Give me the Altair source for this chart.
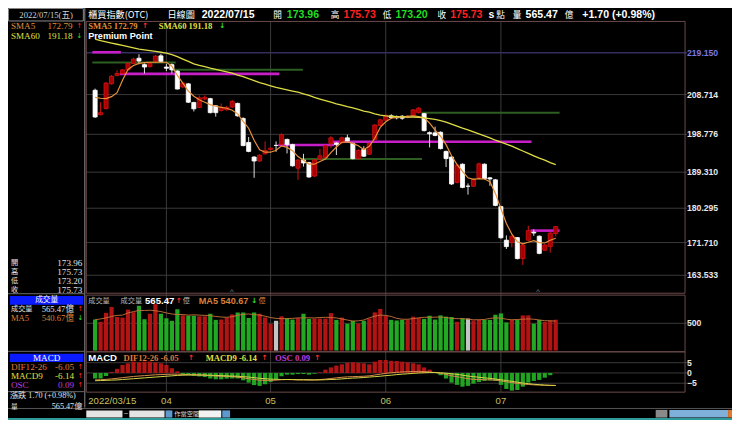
import altair as alt
import pandas as pd

# ---------------- data ----------------
first_date = "2022/03/15"
month_idx = [13, 32, 53, 74]
month_labels = ["04", "05", "06", "07"]

open_ = [209.8, 203.7, 205.2, 211.4, 213.5, 214.0, 214.9, 216.5, 217.8, 216.2,
         215.7, 217.0, 218.4, 215.6, 216.2, 214.6, 210.6, 211.4, 206.75, 205.5,
         207.6, 207.7, 205.9, 204.75, 204.9, 205.6, 206.5, 202.75, 196.75, 193.1,
         192.1, 193.9, 195.0, 196.0, 196.2, 197.5, 196.2, 190.3, 192.35, 191.7,
         188.35, 192.6, 192.97, 196.5, 196.6, 196.7, 197.9, 196.5, 192.7, 195.0,
         193.8, 197.5, 201.0, 202.3, 203.4, 203.2, 203.3, 203.0, 203.4, 204.2,
         203.95, 199.2, 199.15, 199.3, 194.5, 193.1, 186.75, 191.3, 185.8, 185.8,
         187.9, 191.3, 187.9, 187.4, 180.7, 172.3, 171.7, 172.95, 167.7, 172.3,
         174.3, 173.3, 169.8, 170.7, 173.96]
high = [210.2, 206.8, 211.8, 213.6, 214.8, 215.1, 216.7, 217.9, 218.8, 216.5,
        216.8, 218.6, 218.9, 216.4, 216.5, 214.8, 211.8, 211.6, 206.9, 208.5,
        208.5, 207.9, 206.1, 206.5, 205.9, 207.4, 206.7, 203.0, 198.1, 193.3,
        193.8, 197.0, 195.5, 197.0, 199.0, 197.7, 196.4, 192.6, 193.9, 191.9,
        192.6, 195.1, 196.2, 198.3, 196.8, 198.2, 198.7, 196.7, 195.0, 195.8,
        196.8, 201.3, 202.6, 203.8, 203.8, 203.5, 203.6, 203.6, 205.1, 205.6,
        204.1, 199.5, 200.7, 199.5, 194.7, 193.3, 191.4, 191.5, 186.5, 187.8,
        191.7, 191.5, 188.1, 187.6, 180.9, 173.5, 173.5, 173.1, 171.3, 175.9,
        175.0, 173.5, 171.3, 174.3, 175.73]
low = [202.9, 203.5, 205.0, 211.2, 213.3, 213.8, 214.7, 216.3, 216.3, 214.0,
       215.5, 216.8, 216.7, 214.6, 214.0, 210.0, 210.4, 206.6, 204.5, 205.3,
       207.3, 204.0, 203.2, 204.5, 204.7, 205.4, 203.2, 195.8, 194.3, 187.9,
       191.9, 193.7, 194.8, 194.4, 196.0, 194.0, 190.7, 187.4, 190.7, 187.9,
       188.1, 192.3, 192.7, 195.3, 193.6, 196.5, 196.9, 192.5, 192.5, 193.1,
       193.6, 197.3, 200.8, 202.1, 202.7, 202.5, 202.4, 202.8, 203.2, 204.0,
       199.5, 195.5, 198.3, 195.0, 190.6, 186.1, 186.5, 185.3, 183.7, 185.6,
       187.7, 187.5, 185.9, 180.8, 172.7, 170.1, 170.5, 167.5, 166.1, 172.1,
       173.4, 168.8, 169.6, 169.2, 173.20]
close = [203.1, 204.2, 211.6, 213.3, 214.0, 214.9, 216.5, 217.6, 217.1, 215.6,
         216.5, 218.35, 217.0, 215.3, 214.9, 210.1, 211.6, 206.8, 205.15, 207.9,
         208.0, 204.2, 204.2, 205.55, 205.5, 207.0, 203.4, 195.95, 194.5, 192.1,
         193.55, 194.75, 195.3, 196.0, 198.7, 196.2, 190.9, 192.35, 191.6, 188.1,
         192.35, 193.4, 195.95, 197.9, 196.2, 197.9, 197.1, 192.7, 194.75, 193.3,
         196.5, 201.1, 202.4, 203.5, 203.0, 202.9, 202.8, 203.3, 204.9, 205.3,
         199.7, 198.9, 198.5, 195.2, 192.7, 186.35, 191.1, 185.5, 185.8, 187.55,
         191.4, 187.7, 187.6, 181.0, 172.9, 170.7, 173.3, 167.7, 171.1, 174.7,
         174.1, 169.0, 171.1, 174.1, 175.73]
sma5 = [208.0, 207.8, 207.7, 208.2, 209.2, 212.3, 215.0, 216.0, 216.5, 216.7,
        216.8, 216.8, 216.8, 216.8, 215.8, 213.5, 211.6, 209.6, 208.3, 207.4,
        206.8, 206.2, 205.8, 205.5, 205.3, 204.8, 203.9, 202.0, 200.3, 197.3,
        194.9, 194.3, 194.3, 194.8, 195.9, 195.5, 194.7, 193.2, 192.3, 191.3,
        191.3, 192.0, 192.6, 194.2, 195.6, 196.8, 196.9, 196.5, 195.9, 195.0,
        195.8, 197.8, 200.5, 201.9, 202.8, 203.0, 203.15, 203.3, 203.4, 203.2,
        202.9, 201.6, 199.8, 198.3, 196.2, 193.4, 191.2, 189.5, 187.9, 187.5,
        187.7, 187.6, 186.9, 184.0, 180.2, 176.5, 173.8, 171.9, 171.4, 171.8,
        172.2, 171.7, 171.6, 172.3, 172.79]
sma60 = [222.6, 222.2, 221.9, 221.6, 221.3, 221.0, 220.7, 220.4, 220.1, 219.9,
         219.7, 219.5, 219.3, 219.1, 218.7, 218.2, 217.6, 217.0, 216.4, 216.0,
         215.7, 215.3, 215.0, 214.7, 214.4, 214.1, 213.6, 213.2, 212.7, 212.2,
         211.7, 211.3, 210.9, 210.5, 210.2, 209.9, 209.6, 209.3, 208.9, 208.5,
         208.0, 207.6, 207.2, 206.8, 206.4, 206.1, 205.7, 205.4, 205.0, 204.6,
         204.3, 203.9, 203.6, 203.4, 203.3, 203.2, 203.15, 203.1, 203.1, 203.05,
         202.9, 202.7, 202.5, 202.2, 201.8, 201.3, 200.8, 200.3, 199.9, 199.4,
         198.9, 198.4, 197.9, 197.3, 196.8, 196.3, 195.8, 195.2, 194.6, 194.0,
         193.4, 192.8, 192.3, 191.7, 191.18]
volume = [569, 528, 692, 798, 616, 604, 751, 704, 822, 575,
          675, 851, 675, 593, 546, 757, 645, 639, 639, 628,
          628, 675, 563, 569, 604, 663, 698, 698, 598, 698,
          675, 604, 487, 546, 628, 593, 569, 593, 675, 581,
          587, 587, 587, 686, 563, 604, 493, 546, 499, 546,
          587, 700, 763, 634, 563, 552, 563, 569, 622, 598,
          581, 639, 569, 645, 622, 616, 528, 593, 587, 552,
          563, 563, 563, 657, 681, 516, 563, 563, 645, 645,
          493, 563, 528, 552, 565.47]
vol_ma5 = [565, 580, 600, 625, 645, 650, 690, 715, 735, 735,
           740, 730, 715, 690, 670, 660, 660, 650, 655, 650,
           645, 640, 625, 615, 610, 620, 645, 665, 670, 660,
           650, 630, 605, 590, 585, 585, 590, 598, 600, 600,
           598, 605, 610, 605, 598, 580, 560, 540, 545, 560,
           600, 630, 650, 645, 625, 590, 575, 575, 585, 600,
           610, 610, 612, 615, 605, 590, 585, 585, 575, 565,
           565, 570, 590, 600, 595, 575, 565, 570, 575, 580,
           575, 560, 548, 545, 540.67]
osc = [-2.7, -2.7, -1.5, 0.5, 2.0, 3.9, 4.7, 5.5, 5.2, 5.5,
       5.5, 5.2, 4.7, 3.9, 2.3, 0.8, -0.8, -1.1, -1.4, -1.7,
       -2.0, -2.7, -3.1, -3.1, -2.8, -2.7, -2.7, -3.6, -4.7, -5.9,
       -6.3, -5.5, -4.4, -3.1, -1.6, -0.8, -0.8, -0.5, -0.5, -0.8,
       -0.4, 0.3, 1.6, 2.7, 3.6, 4.2, 5.0, 5.2, 4.9, 4.7,
       4.2, 5.5, 6.3, 6.3, 5.9, 5.8, 5.5, 5.2, 4.7, 4.2,
       2.7, 1.6, 0.5, -1.1, -2.7, -4.7, -5.8, -6.7, -6.3, -5.2,
       -4.4, -3.9, -3.6, -3.9, -5.8, -7.8, -8.6, -8.3, -6.7, -4.7,
       -3.9, -3.4, -2.3, -1.1, 0.09]
dif = [-3.4, -3.3, -3.1, -2.9, -2.6, -2.3, -2.0, -1.7, -1.5, -1.3,
       -1.1, -0.9, -0.8, -0.7, -0.6, -0.6, -0.7, -0.8, -0.9, -1.0,
       -1.1, -1.3, -1.5, -1.6, -1.7, -1.8, -2.0, -2.4, -2.8, -3.2,
       -3.5, -3.6, -3.6, -3.5, -3.3, -3.2, -3.3, -3.4, -3.4, -3.5,
       -3.4, -3.2, -3.0, -2.7, -2.4, -2.1, -1.9, -1.8, -1.7, -1.6,
       -1.4, -1.0, -0.6, -0.2, 0.1, 0.3, 0.5, 0.6, 0.7, 0.8,
       0.7, 0.5, 0.2, -0.2, -0.7, -1.4, -1.8, -2.3, -2.8, -3.1,
       -3.2, -3.3, -3.4, -3.5, -3.9, -4.3, -4.7, -5.1, -5.4, -5.6,
       -5.8, -5.9, -6.0, -6.0, -6.05]
macd9 = [-3.8, -3.7, -3.6, -3.5, -3.4, -3.2, -3.0, -2.8, -2.6, -2.4,
         -2.2, -2.0, -1.8, -1.6, -1.4, -1.2, -1.1, -1.0, -1.0, -1.0,
         -1.0, -1.1, -1.2, -1.3, -1.4, -1.5, -1.6, -1.8, -2.0, -2.3,
         -2.6, -2.8, -3.0, -3.1, -3.2, -3.2, -3.2, -3.3, -3.3, -3.3,
         -3.4, -3.4, -3.3, -3.2, -3.1, -2.9, -2.7, -2.5, -2.4, -2.2,
         -2.0, -1.8, -1.6, -1.3, -1.1, -0.8, -0.6, -0.4, -0.2, 0.0,
         0.1, 0.2, 0.2, 0.1, -0.1, -0.4, -0.7, -1.1, -1.5, -1.8,
         -2.1, -2.4, -2.6, -3.0, -3.3, -3.7, -4.1, -4.5, -4.9, -5.2,
         -5.5, -5.7, -5.9, -6.05, -6.14]

price_ticks = [163.533, 171.710, 180.295, 189.310, 198.776, 208.714]
price_top_level = [219.150]
vol_ticks = [500]
macd_ticks = [5, 0, -5]

level_value = [219.3, 216.75, 214.9, 213.9, 196.1, 196.9, 192.6, 204.2, 174.7]
level_start = [-0.5, -0.5, 13.9, 4.5, 33.4, 43.0, 37.5, 59.5, 79.4]
level_end = [4.7, 14.7, 37.9, 33.6, 43.6, 79.6, 59.6, 84.7, 84.7]
level_kind = ["m", "g", "g", "m", "m", "m", "g", "g", "m"]

# ---------------- layout ----------------
W, H = 724, 412
FX, FY = W / 740.0, H / 429.0


def X(x):
    return round(x * FX, 2)


def Y(y):
    return round(y * FY, 2)


RED = "#ff2a2a"
GRN = "#2ee82e"
ORG = "#e0903a"
YEL = "#e2e040"
DIFC = "#e0783a"
PUR = "#c23cdc"
TXT = "#e2e2e2"
GRID = "#3a3a3a"
FRAME = "#6b4a4a"
SERIF = "'Liberation Serif','Noto Sans CJK TC',serif"
SANS = "'Liberation Sans','Noto Sans CJK TC',sans-serif"
CJK = "'Noto Sans CJK TC',sans-serif"
ARW = "'DejaVu Sans',sans-serif"

xs = alt.Scale(domain=[-0.7, 106.67], range=[X(80), X(692)], nice=False, zero=False)
ps = alt.Scale(domain=[159.04, 227.0], range=[Y(297), Y(14)], nice=False, zero=False)
vs = alt.Scale(domain=[0, 1016], range=[Y(356.7), Y(299)], nice=False, zero=False)
ms = alt.Scale(domain=[-9.35, 10.3], range=[Y(400), Y(358)], nice=False, zero=False)

n = len(close)
df = pd.DataFrame({
    "i": list(range(n)), "o": open_, "h": high, "l": low, "c": close,
    "s5": sma5, "s60": sma60, "v": volume, "vm": vol_ma5,
    "osc": osc, "dif": dif, "m9": macd9,
})
df["z"] = 0
lev = pd.DataFrame({"val": level_value, "s": level_start, "e": level_end, "k": level_kind})
mon = pd.DataFrame({"i": month_idx, "lab": month_labels})

ONE = alt.Data(values=[{"k": 0}])
base = alt.Chart(df)
XI = alt.X("i:Q", scale=xs, axis=None)


def txt(s, x, y, color=TXT, size=10, font=SANS, bold=False, align="left"):
    kw = dict(text=s, font=font, fontSize=round(size * FY, 2), color=color,
              align=align, baseline="middle")
    if bold:
        kw["fontWeight"] = "bold"
    return alt.Chart(ONE).mark_text(**kw).encode(x=alt.value(X(x)), y=alt.value(Y(y)))


def hline(x1, x2, y, color, w=1):
    return alt.Chart(ONE).mark_rule(color=color, strokeWidth=w).encode(
        x=alt.value(X(x1)), x2=alt.value(X(x2)), y=alt.value(Y(y)))


def vline(x, y1, y2, color, w=1):
    return alt.Chart(ONE).mark_rule(color=color, strokeWidth=w).encode(
        x=alt.value(X(x)), y=alt.value(Y(y1)), y2=alt.value(Y(y2)))


def box(x1, y1, x2, y2, fill=None, stroke=None, w=1):
    kw = {}
    if fill:
        kw["fill"] = fill
    else:
        kw["fillOpacity"] = 0
    if stroke:
        kw["stroke"] = stroke
        kw["strokeWidth"] = w
    return alt.Chart(ONE).mark_rect(**kw).encode(
        x=alt.value(X(x1)), x2=alt.value(X(x2)), y=alt.value(Y(y1)), y2=alt.value(Y(y2)))


layers = []

# ---- grids ----
layers.append(alt.Chart(pd.DataFrame({"p": price_ticks})).mark_rule(color=GRID, strokeWidth=1).encode(
    y=alt.Y("p:Q", scale=ps, axis=None), x=alt.value(X(80)), x2=alt.value(X(694))))
layers.append(alt.Chart(pd.DataFrame({"p": price_top_level})).mark_rule(color="#4e4490", strokeWidth=1).encode(
    y=alt.Y("p:Q", scale=ps, axis=None), x=alt.value(X(80)), x2=alt.value(X(694))))
layers.append(alt.Chart(mon).mark_rule(color=GRID, strokeWidth=1).encode(
    x=XI, y=alt.value(Y(14)), y2=alt.value(Y(400))))
layers.append(alt.Chart(pd.DataFrame({"p": vol_ticks})).mark_rule(color=GRID, strokeWidth=1).encode(
    y=alt.Y("p:Q", scale=vs, axis=None), x=alt.value(X(80)), x2=alt.value(X(694))))
layers.append(alt.Chart(pd.DataFrame({"p": macd_ticks})).mark_rule(color=GRID, strokeWidth=1).encode(
    y=alt.Y("p:Q", scale=ms, axis=None), x=alt.value(X(80)), x2=alt.value(X(694))))

# ---- level lines ----
layers.append(alt.Chart(lev).transform_filter("datum.k == 'g'").mark_rule(color="#2f5e22", strokeWidth=2).encode(
    x=alt.X("s:Q", scale=xs, axis=None), x2="e:Q", y=alt.Y("val:Q", scale=ps, axis=None)))
layers.append(alt.Chart(lev).transform_filter("datum.k == 'm'").mark_rule(color="#c81ec8", strokeWidth=2.6).encode(
    x=alt.X("s:Q", scale=xs, axis=None), x2="e:Q", y=alt.Y("val:Q", scale=ps, axis=None)))

# ---- candles ----
cand = base.transform_calculate(
    body="datum.c > datum.o ? '#a80000' : '#ffffff'",
    edge="datum.c > datum.o ? '#d81212' : '#ffffff'",
    wick="datum.c > datum.o ? '#d01414' : '#dcdcdc'",
)
layers.append(cand.mark_rule(strokeWidth=1).encode(
    x=XI, y=alt.Y("l:Q", scale=ps, axis=None), y2="h:Q", color=alt.Color("wick:N", scale=None)))
layers.append(cand.mark_bar(size=X(4.2), strokeWidth=0.8).encode(
    x=XI, y=alt.Y("o:Q", scale=ps, axis=None), y2="c:Q",
    fill=alt.Fill("body:N", scale=None), stroke=alt.Stroke("edge:N", scale=None)))
layers.append(base.mark_line(color="#e8913a", strokeWidth=1.2).encode(
    x=XI, y=alt.Y("s5:Q", scale=ps, axis=None)))
layers.append(base.mark_line(color="#dedc44", strokeWidth=1.3).encode(
    x=XI, y=alt.Y("s60:Q", scale=ps, axis=None)))

# ---- volume ----
layers.append(base.transform_calculate(
    vc="datum.c > datum.o ? '#b21414' : (datum.c < datum.o ? '#22a822' : '#c4c4c4')"
).mark_bar(size=X(4.3)).encode(
    x=XI, y=alt.Y("v:Q", scale=vs, axis=None), y2="z:Q", color=alt.Color("vc:N", scale=None)))
layers.append(base.mark_line(color="#c8743a", strokeWidth=0.9).encode(
    x=XI, y=alt.Y("vm:Q", scale=vs, axis=None)))

# ---- MACD ----
layers.append(base.transform_calculate(
    oc="datum.osc >= 0 ? '#b21414' : '#22a422'"
).mark_bar(size=X(4.3)).encode(
    x=XI, y=alt.Y("osc:Q", scale=ms, axis=None), y2="z:Q", color=alt.Color("oc:N", scale=None)))
layers.append(base.mark_line(color="#d88a4a", strokeWidth=1).encode(
    x=XI, y=alt.Y("dif:Q", scale=ms, axis=None)))
layers.append(base.mark_line(color="#d6d246", strokeWidth=1).encode(
    x=XI, y=alt.Y("m9:Q", scale=ms, axis=None)))

# ---- frames ----
layers += [
    box(80, 14, 692, 297, stroke=FRAME),
    box(80, 299, 692, 358, stroke=FRAME),
    box(80, 358, 692, 400, stroke=FRAME),
    box(0.5, 0.5, 77, 13.5, stroke="#8a8a8a"),
    vline(78.5, 0, 416, "#8a8a8a"),
    hline(0, 78, 297.5, "#6a6a6a"),
    hline(0, 78, 357.5, "#6a6a6a"),
    hline(0, 78, 399.5, "#6a6a6a"),
    hline(0, 740, 417, "#555555"),
]

# ---- right axis labels ----
layers.append(alt.Chart(pd.DataFrame({"p": price_ticks})).mark_text(
    font=SANS, fontSize=round(9 * FY, 2), fontWeight="bold", color="#e6e6e6", align="left", baseline="middle").encode(
    y=alt.Y("p:Q", scale=ps, axis=None), x=alt.value(X(694)), text=alt.Text("p:Q", format=".3f")))
layers.append(alt.Chart(pd.DataFrame({"p": price_top_level})).mark_text(
    font=SANS, fontSize=round(9 * FY, 2), fontWeight="bold", color="#7c78e0", align="left", baseline="middle").encode(
    y=alt.Y("p:Q", scale=ps, axis=None), x=alt.value(X(694)), text=alt.Text("p:Q", format=".3f")))
layers.append(alt.Chart(pd.DataFrame({"p": vol_ticks})).mark_text(
    font=SANS, fontSize=round(9 * FY, 2), fontWeight="bold", color="#e6e6e6", align="left", baseline="middle").encode(
    y=alt.Y("p:Q", scale=vs, axis=None), x=alt.value(X(694)), text=alt.Text("p:Q", format="d")))
layers.append(alt.Chart(pd.DataFrame({"p": macd_ticks})).mark_text(
    font=SANS, fontSize=round(9 * FY, 2), fontWeight="bold", color="#e6e6e6", align="left", baseline="middle").encode(
    y=alt.Y("p:Q", scale=ms, axis=None), x=alt.value(X(694)), text=alt.Text("p:Q", format="d")))

# ---- date labels ----
layers.append(alt.Chart(mon).mark_text(
    font=SANS, fontSize=round(10 * FY, 2), color="#c8c060", align="center", baseline="middle").encode(
    x=XI, y=alt.value(Y(409)), text="lab:N"))
layers.append(txt(first_date, 82, 409, "#c8c060", 10, SANS))

# ---- top header ----
layers += [
    txt("2022/07/15(五)", 39, 7, "#d0d0d0", 9, SERIF, align="center"),
    txt("櫃買指數(OTC)", 82, 7, "#ffffff", 9.5, CJK),
    txt("日線圖", 163, 7, "#ffffff", 9.5, CJK),
    txt("2022/07/15", 198, 7, "#ffffff", 11, SANS, True),
    txt("開", 271, 7, "#ffffff", 9, CJK),
    txt("173.96", 285, 7, "#22dd22", 11, SANS, True),
    txt("高", 330, 7, "#ffffff", 9, CJK),
    txt("175.73", 343, 7, "#ff2222", 11, SANS, True),
    txt("低", 383, 7, "#ffffff", 9, CJK),
    txt("173.20", 396, 7, "#22dd22", 11, SANS, True),
    txt("收", 439, 7, "#ffffff", 9, CJK),
    txt("175.73", 452, 7, "#ff2222", 11, SANS, True),
    txt("s", 491, 7, "#ffffff", 11, SANS, True),
    txt("點", 499, 7, "#ffffff", 9, CJK),
    txt("量", 516, 7, "#ffffff", 9, CJK),
    txt("565.47", 529, 7, "#ffffff", 11, SANS, True),
    txt("億", 569, 7, "#ffffff", 9, CJK),
    txt("+1.70 (+0.98%)", 587, 7, "#ffffff", 11, SANS, True),
]

# ---- panel headers ----
layers += [
    txt("SMA5 172.79", 82, 18.5, ORG, 9, SERIF, True),
    txt("↑", 137, 18.5, RED, 7.5, ARW, True),
    txt("SMA60 191.18", 154, 18.5, YEL, 9, SERIF, True),
    txt("↓", 216, 18.5, GRN, 7.5, ARW, True),
    txt("Premium Point", 82, 29, "#ffffff", 9.5, SANS, True),
    txt("^", 227, 296, "#8a8a8a", 8, SANS),
    txt("^", 540, 296, "#8a8a8a", 8, SANS),
    txt("成交量", 82, 305, "#b8b8b8", 7.5, CJK),
    txt("成交量", 115, 305, "#b8b8b8", 7.5, CJK),
    txt("565.47", 140, 305, "#ffffff", 10, SANS, True),
    txt("↑", 171.5, 305, RED, 7.5, ARW, True),
    txt("億", 178.5, 305, "#b8b8b8", 7.5, CJK),
    txt("MA5 540.67", 195, 305, "#d9803a", 9.5, SANS, True),
    txt("↓", 248.5, 305, GRN, 7.5, ARW, True),
    txt("億", 256, 305, "#d9803a", 7.5, CJK),
    txt("MACD", 82, 364, "#ffffff", 10, SANS, True),
    txt("DIF12-26 -6.05", 118, 364, DIFC, 9, SERIF, True),
    txt("↑", 184, 364, RED, 7.5, ARW, True),
    txt("MACD9 -6.14", 202, 364, YEL, 9, SERIF, True),
    txt("↑", 259, 364, RED, 7.5, ARW, True),
    txt("OSC 0.09", 273, 364, PUR, 9, SERIF, True),
    txt("↑", 313, 364, RED, 7.5, ARW, True),
]

# ---- left info panel ----
layers += [
    txt("SMA5", 3, 18.5, ORG, 9.5, SERIF),
    txt("172.79", 66, 18.5, ORG, 9.5, SERIF, align="right"),
    txt("↑", 70, 18.5, RED, 7, ARW),
    txt("SMA60", 3, 29.5, YEL, 9.5, SERIF),
    txt("191.18", 66, 29.5, YEL, 9.5, SERIF, align="right"),
    txt("↓", 70, 29.5, GRN, 7, ARW),
    txt("開", 3, 265, TXT, 7.5, CJK),
    txt("173.96", 76, 265, TXT, 9.5, SERIF, align="right"),
    txt("高", 3, 274.5, TXT, 7.5, CJK),
    txt("175.73", 76, 274.5, TXT, 9.5, SERIF, align="right"),
    txt("低", 3, 284, TXT, 7.5, CJK),
    txt("173.20", 76, 284, TXT, 9.5, SERIF, align="right"),
    txt("收", 3, 293.5, TXT, 7.5, CJK),
    txt("175.73", 76, 293.5, TXT, 9.5, SERIF, align="right"),
    box(2, 300, 77, 309, fill="#0a1cff"),
    txt("成交量", 39.5, 304.5, "#ffffff", 8, CJK, align="center"),
    txt("成交量", 3, 313.5, TXT, 7.5, CJK),
    txt("565.47億", 67.5, 313.5, TXT, 9, SERIF, align="right"),
    txt("↑", 71, 313.5, RED, 7, ARW),
    txt("MA5", 3, 323, "#d9803a", 9, SERIF),
    txt("540.67億", 67.5, 323, "#d9803a", 9, SERIF, align="right"),
    txt("↓", 71, 323, GRN, 7, ARW),
    box(2, 360, 77, 368.5, fill="#0a1cff"),
    txt("MACD", 39.5, 364.3, "#ffffff", 9.5, SERIF, align="center"),
    txt("DIF12-26", 3, 373.5, DIFC, 9.5, SERIF),
    txt("-6.05", 67.5, 373.5, DIFC, 9.5, SERIF, align="right"),
    txt("↑", 71, 373.5, RED, 7, ARW),
    txt("MACD9", 3, 382.8, YEL, 9.5, SERIF),
    txt("-6.14", 67.5, 382.8, YEL, 9.5, SERIF, align="right"),
    txt("↑", 71, 382.8, RED, 7, ARW),
    txt("OSC", 3, 392.3, PUR, 9.5, SERIF),
    txt("0.09", 67.5, 392.3, PUR, 9.5, SERIF, align="right"),
    txt("↑", 71, 392.3, RED, 7, ARW),
    txt("漲跌  1.70 (+0.98%)", 2, 404.5, TXT, 8.5, SERIF),
    txt("量", 3, 415.5, TXT, 7, CJK),
    txt("565.47億", 76, 415.5, TXT, 8.5, SERIF, align="right"),
]

# ---- bottom toolbar ----
layers += [
    box(80, 419, 117, 426.5, fill="#e4e4e4"),
    txt("~", 120.5, 423, "#dddddd", 8, SANS, align="center"),
    box(124, 419, 160, 426.5, fill="#e4e4e4"),
    box(161, 419, 168, 426.5, fill="#5e98cc"),
    txt("作當空間", 170, 423, "#dddddd", 6.5, CJK),
    box(195, 419, 218, 426.5, fill="#f2f2f2"),
    box(219, 419, 227, 426.5, fill="#5e98cc"),
    box(662, 418.5, 674, 426.5, fill="#8a8a8a"),
    box(676, 418.5, 736, 426.5, fill="#7fb0da"),
    box(736, 418.5, 740, 426.5, fill="#e07a30"),
    box(0, 427, 740, 429, fill="#2f9a9a"),
]

chart = alt.layer(*layers).resolve_scale(y="independent").properties(
    width=W, height=H, background="#000000", padding=0,
    autosize=alt.AutoSizeParams(type="none"),
).configure_view(strokeWidth=0)

chart.save("out.html", embed_options={"renderer": "svg", "actions": False})
